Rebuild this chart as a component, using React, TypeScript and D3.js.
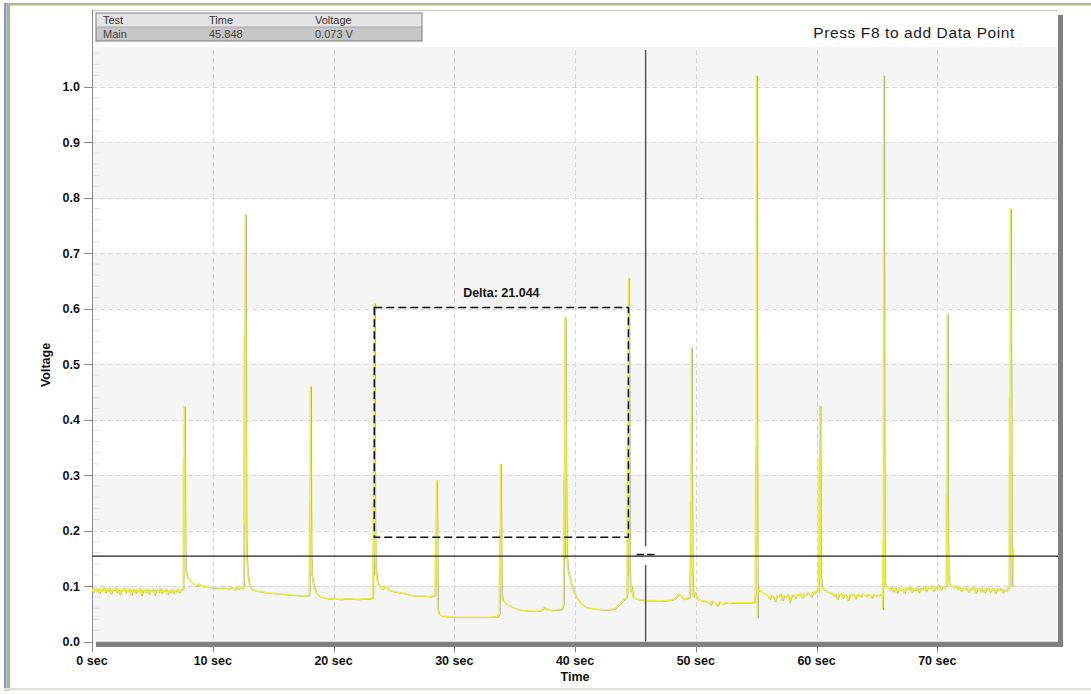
import React from "react";
import * as d3 from "d3";

// ---------------- DATA ----------------
const xTicks = [0, 10, 20, 30, 40, 50, 60, 70];
const xTickLabels = ["0 sec", "10 sec", "20 sec", "30 sec", "40 sec", "50 sec", "60 sec", "70 sec"];
const yTicks = [0, 0.1, 0.2, 0.3, 0.4, 0.5, 0.6, 0.7, 0.8, 0.9, 1.0];
const yTickLabels = ["0.0", "0.1", "0.2", "0.3", "0.4", "0.5", "0.6", "0.7", "0.8", "0.9", "1.0"];

const tableHeader = ["Test", "Time", "Voltage"];
const tableRow = ["Main", "45.848", "0.073 V"];

const cursorTime = 45.848;
const thresholdVolt = 0.154;
const deltaStart = 23.38;
const deltaEnd = 44.424;
const deltaTop = 0.602;
const deltaBottom = 0.188;
const deltaLabel = "Delta: 21.044";

// noisy stretches: start time, sample step, sampled voltages
const noiseA = {
  start: 0, step: 0.12, values: [
    0.094, 0.089, 0.097, 0.091, 0.096, 0.087, 0.095, 0.092, 0.098, 0.088,
    0.096, 0.090, 0.097, 0.086, 0.094, 0.092, 0.098, 0.089, 0.095, 0.085,
    0.094, 0.091, 0.097, 0.088, 0.095, 0.090, 0.096, 0.084, 0.093, 0.095,
    0.087, 0.094, 0.090, 0.096, 0.083, 0.092, 0.094, 0.088, 0.095, 0.086,
    0.093, 0.091, 0.095, 0.084, 0.092, 0.094, 0.089, 0.096, 0.087, 0.093,
    0.090, 0.095, 0.085, 0.092, 0.089, 0.094, 0.087, 0.093, 0.090, 0.095,
    0.088, 0.092, 0.094,
  ],
};
const noiseB = {
  start: 55.35, step: 0.15, values: [
    0.092, 0.088, 0.086, 0.085, 0.083, 0.076, 0.084, 0.082, 0.072, 0.083,
    0.081, 0.086, 0.074, 0.083, 0.080, 0.085, 0.071, 0.082, 0.084, 0.078,
    0.085, 0.083, 0.087, 0.079, 0.086, 0.084, 0.088, 0.085, 0.080, 0.089,
    0.087, 0.092, 0.090,
  ],
};
const noiseC = {
  start: 60.65, step: 0.15, values: [
    0.094, 0.091, 0.089, 0.087, 0.088, 0.082, 0.086, 0.076, 0.085, 0.087,
    0.078, 0.086, 0.084, 0.074, 0.085, 0.083, 0.086, 0.077, 0.084, 0.085,
    0.080, 0.086, 0.084, 0.081, 0.085, 0.084, 0.079, 0.085, 0.082, 0.084,
    0.083, 0.085, 0.084,
  ],
};
const noiseD = {
  start: 65.75, step: 0.15, values: [
    0.100, 0.097, 0.093, 0.099, 0.090, 0.097, 0.088, 0.098, 0.092, 0.096,
    0.087, 0.097, 0.094, 0.100, 0.089, 0.096, 0.092, 0.098, 0.088, 0.096,
    0.094, 0.100, 0.090, 0.097, 0.095, 0.101, 0.091, 0.097, 0.096, 0.102,
    0.093, 0.098, 0.096, 0.100,
  ],
};
const noiseE = {
  start: 71.05, step: 0.15, values: [
    0.103, 0.100, 0.097, 0.101, 0.094, 0.099, 0.091, 0.098, 0.095, 0.097,
    0.089, 0.096, 0.094, 0.098, 0.087, 0.095, 0.097, 0.090, 0.096, 0.088,
    0.095, 0.097, 0.089, 0.094, 0.096, 0.087, 0.095, 0.092, 0.096, 0.088,
    0.094, 0.091, 0.095,
  ],
};

// spikes with the following recovery, [time, voltage]
const seg1: [number, number][] = [
  [7.54, 0.095], [7.57, 0.33], [7.6, 0.2], [7.64, 0.424], [7.67, 0.3], [7.7, 0.18], [7.74, 0.13],
  [7.85, 0.118], [8.0, 0.112], [8.2, 0.108], [8.4, 0.104], [8.6, 0.1], [8.9, 0.104],
  [9.1, 0.099], [9.4, 0.1], [9.8, 0.097], [10.2, 0.097], [10.6, 0.096], [11.0, 0.097],
  [11.3, 0.095], [11.6, 0.098], [11.8, 0.093], [11.95, 0.099], [12.1, 0.094],
  [12.25, 0.1], [12.4, 0.095], [12.52, 0.098],
];
const seg2: [number, number][] = [
  [12.56, 0.11], [12.6, 0.55], [12.63, 0.21], [12.66, 0.565], [12.69, 0.77], [12.72, 0.55],
  [12.75, 0.21], [12.8, 0.15],
  [12.9, 0.12], [13.0, 0.105], [13.2, 0.094], [13.6, 0.091], [14.0, 0.09], [14.5, 0.088],
  [15.0, 0.087], [15.5, 0.086], [16.0, 0.085], [16.5, 0.084], [17.0, 0.083], [17.5, 0.082],
  [17.95, 0.083],
];
const seg3: [number, number][] = [
  [17.98, 0.085], [18.02, 0.25], [18.05, 0.12], [18.08, 0.46], [18.11, 0.24], [18.15, 0.15],
  [18.2, 0.12], [18.3, 0.105], [18.5, 0.09], [18.8, 0.082], [19.2, 0.079], [19.6, 0.077],
  [20.0, 0.078], [20.5, 0.076], [21.0, 0.077], [21.5, 0.077], [22.0, 0.076], [22.5, 0.077],
  [23.0, 0.077], [23.25, 0.079],
];
const seg4: [number, number][] = [
  [23.29, 0.25], [23.32, 0.12], [23.35, 0.4], [23.38, 0.61], [23.41, 0.245], [23.45, 0.16],
  [23.5, 0.13], [23.6, 0.11], [23.8, 0.1], [24.0, 0.094], [24.3, 0.1], [24.6, 0.092],
  [25.0, 0.09], [25.5, 0.088], [26.0, 0.086], [26.5, 0.083], [27.0, 0.082], [27.5, 0.082],
  [28.0, 0.081], [28.4, 0.083],
];
const seg5: [number, number][] = [
  [28.44, 0.2], [28.47, 0.1], [28.5, 0.22], [28.54, 0.29], [28.57, 0.2], [28.62, 0.06],
  [28.7, 0.05], [29.0, 0.046], [29.5, 0.045], [30.0, 0.044], [31.0, 0.044], [32.0, 0.044],
  [33.0, 0.044], [33.6, 0.045], [33.72, 0.05],
];
const seg6: [number, number][] = [
  [33.76, 0.2], [33.79, 0.1], [33.83, 0.32], [33.86, 0.23], [33.9, 0.09], [34.0, 0.075],
  [34.3, 0.068], [34.8, 0.062], [35.3, 0.058], [35.8, 0.056], [36.3, 0.055], [36.8, 0.055],
  [37.2, 0.056], [37.5, 0.062], [37.6, 0.057], [37.8, 0.059], [38.0, 0.056], [38.4, 0.057],
  [38.9, 0.058], [39.04, 0.07],
];
const seg7: [number, number][] = [
  [39.07, 0.3], [39.1, 0.15], [39.13, 0.45], [39.16, 0.585], [39.19, 0.567], [39.22, 0.45],
  [39.25, 0.27], [39.28, 0.16], [39.4, 0.13], [39.6, 0.11], [39.8, 0.095], [40.1, 0.08],
  [40.5, 0.068], [40.9, 0.062], [41.5, 0.059], [42.0, 0.058], [42.5, 0.057], [43.0, 0.058],
  [43.3, 0.06], [43.6, 0.065], [43.9, 0.073], [44.2, 0.078], [44.3, 0.085],
];
const seg8: [number, number][] = [
  [44.34, 0.35], [44.37, 0.12], [44.41, 0.62], [44.44, 0.655], [44.47, 0.5], [44.51, 0.15],
  [44.57, 0.09], [44.65, 0.1], [44.8, 0.08], [45.0, 0.077], [45.5, 0.075], [46.0, 0.074],
  [46.5, 0.074], [47.0, 0.073], [47.5, 0.074], [48.0, 0.075], [48.3, 0.078], [48.6, 0.086],
  [48.8, 0.082], [49.0, 0.076], [49.3, 0.078], [49.5, 0.08],
];
const seg9: [number, number][] = [
  [49.56, 0.25], [49.59, 0.12], [49.63, 0.53], [49.66, 0.3], [49.7, 0.13], [49.78, 0.08],
  [49.9, 0.09], [50.1, 0.077], [50.4, 0.074], [50.7, 0.073], [51.0, 0.071], [51.2, 0.066],
  [51.35, 0.073], [51.6, 0.07], [51.8, 0.064], [51.95, 0.072], [52.2, 0.068], [52.5, 0.07],
  [52.8, 0.069], [53.2, 0.07], [53.6, 0.07], [54.0, 0.07], [54.5, 0.07], [54.85, 0.071],
];
const seg10: [number, number][] = [
  [54.92, 0.09], [54.96, 0.35], [55.0, 0.15], [55.03, 1.02], [55.06, 0.37], [55.09, 0.043],
  [55.12, 0.1], [55.18, 0.09], [55.27, 0.093],
];
const seg11: [number, number][] = [
  [60.18, 0.09], [60.21, 0.33], [60.24, 0.14], [60.28, 0.425], [60.31, 0.21], [60.35, 0.12],
  [60.42, 0.1], [60.5, 0.096], [60.58, 0.093],
];
const seg12: [number, number][] = [
  [65.47, 0.058], [65.5, 0.18], [65.53, 0.1], [65.56, 1.02], [65.59, 0.375], [65.62, 0.12],
  [65.68, 0.1],
];
const seg13: [number, number][] = [
  [70.73, 0.1], [70.76, 0.265], [70.79, 0.12], [70.82, 0.59], [70.85, 0.26], [70.9, 0.12],
  [70.98, 0.105],
];
const seg14: [number, number][] = [
  [75.95, 0.1], [75.98, 0.44], [76.01, 0.15], [76.05, 0.78], [76.08, 0.57], [76.11, 0.44],
  [76.14, 0.16], [76.17, 0.1], [76.2, 0.17],
];

// ---------------- CHART ----------------
const W = 1091;
const H = 694;
const FONT = "'Liberation Sans', Arial, Helvetica, sans-serif";

function expand(n: { start: number; step: number; values: number[] }): [number, number][] {
  return n.values.map((v, i) => [n.start + i * n.step, v] as [number, number]);
}

export default function App() {
  const x = d3.scaleLinear().domain([0, 80]).range([92, 1058]);
  const y = d3.scaleLinear().domain([0, 1]).range([641.5, 86.5]);
  const plotTop = 47;
  const left = x(0);
  const right = x(80);
  const bottom = y(0);

  const trace: [number, number][] = [
    ...expand(noiseA), ...seg1, ...seg2, ...seg3, ...seg4, ...seg5, ...seg6, ...seg7,
    ...seg8, ...seg9, ...seg10, ...expand(noiseB), ...seg11, ...expand(noiseC), ...seg12,
    ...expand(noiseD), ...seg13, ...expand(noiseE), ...seg14,
  ];
  const line = d3.line<[number, number]>().x((d) => x(d[0])).y((d) => y(d[1]));
  const path = line(trace) || "";

  const bands = d3.range(0, 11).filter((i) => i % 2 === 0);
  const minor = d3.range(1, 55).map((i) => i * 0.02).filter((v) => Math.abs(v * 10 - Math.round(v * 10)) > 1e-6);

  const cx = x(cursorTime);
  const cy = y(thresholdVolt);

  return (
    <svg width={W} height={H} style={{ position: "absolute", left: 0, top: 0, background: "#fff" }} fontFamily={FONT}>
      <defs>
        <clipPath id="plotClip">
          <rect x={left} y={plotTop - 40} width={right - left} height={bottom - plotTop + 40} />
        </clipPath>
      </defs>
      {/* window frame */}
      <rect x={0} y={0} width={W} height={H} fill="#ffffff" />
      <rect x={4} y={3} width={W - 4} height={2.5} fill="#b4b78f" />
      <rect x={4} y={3} width={2.5} height={688} fill="#7f9fd2" />
      <rect x={6.5} y={5} width={3.5} height={686} fill="#b2b48f" />
      <rect x={4} y={688} width={W - 4} height={2.5} fill="#dfe6d3" />

      {/* plot shadow */}
      <rect x={right} y={15} width={5} height={bottom - 15 + 5.5} fill="#808080" />
      <rect x={left + 4} y={bottom} width={right - left + 1} height={5.5} fill="#808080" />

      {/* bands */}
      {bands.map((i) => {
        const y0 = Math.max(y(i * 0.1 + 0.1), plotTop);
        const y1 = y(i * 0.1);
        return <rect key={"b" + i} x={left} y={y0} width={right - left} height={y1 - y0} fill="#f5f5f5" />;
      })}
      {/* top border of plot */}
      <line x1={left} x2={right} y1={10.5} y2={10.5} stroke="#c8c8c8" />

      {/* minor ticks */}
      {minor.map((v, i) => (
        <line key={"m" + i} x1={left} x2={left + 8} y1={y(v)} y2={y(v)} stroke="#e2e2e2" />
      ))}

      {/* gridlines */}
      {yTicks.filter((v) => v > 0).map((v) => (
        <line key={"gy" + v} x1={left} x2={right} y1={Math.round(y(v)) + 0.5} y2={Math.round(y(v)) + 0.5}
          stroke="#d6d6d6" strokeDasharray="5,3" />
      ))}
      {xTicks.filter((v) => v > 0).map((v) => (
        <line key={"gx" + v} x1={Math.round(x(v)) + 0.5} x2={Math.round(x(v)) + 0.5} y1={plotTop + 3} y2={bottom}
          stroke="#d6d6d6" strokeDasharray="5,3" />
      ))}

      {/* axes */}
      <line x1={left + 0.5} x2={left + 0.5} y1={10} y2={bottom + 8} stroke="#8a8a8a" />
      {yTicks.map((v, i) => (
        <g key={"yt" + v}>
          <line x1={left - 8} x2={left} y1={Math.round(y(v)) + 0.5} y2={Math.round(y(v)) + 0.5} stroke="#8a8a8a" />
          <text x={left - 12} y={y(v) + 4.5} textAnchor="end" fontSize={12.5} fontWeight="bold" fill="#111">
            {yTickLabels[i]}
          </text>
        </g>
      ))}
      {xTicks.map((v, i) => (
        <g key={"xt" + v}>
          <line x1={Math.round(x(v)) + 0.5} x2={Math.round(x(v)) + 0.5} y1={bottom + 5} y2={bottom + 11} stroke="#8a8a8a" />
          <text x={x(v)} y={bottom + 23} textAnchor="middle" fontSize={12.5} fontWeight="bold" fill="#111">
            {xTickLabels[i]}
          </text>
        </g>
      ))}
      <text x={575} y={681} textAnchor="middle" fontSize={12.5} fontWeight="bold" fill="#111">Time</text>
      <text transform={`translate(50,365) rotate(-90)`} textAnchor="middle" fontSize={12.5} fontWeight="bold" fill="#111">
        Voltage
      </text>

      {/* trace */}
      <g clipPath="url(#plotClip)">
        <path d={path} fill="none" stroke="#9c9c8c" strokeWidth={1} strokeOpacity={0.7} transform="translate(1,0.6)" />
        <path d={path} fill="none" stroke="#ecec3c" strokeWidth={1.4} strokeLinejoin="round" />
      </g>

      {/* threshold line */}
      <line x1={left} x2={right} y1={cy} y2={cy} stroke="#222" strokeWidth={1.3} />

      {/* delta box */}
      <rect x={x(deltaStart)} y={y(deltaTop)} width={x(deltaEnd) - x(deltaStart)} height={y(deltaBottom) - y(deltaTop)}
        fill="none" stroke="#111" strokeWidth={1.5} strokeDasharray="8,4" />
      <text x={(x(deltaStart) + x(deltaEnd)) / 2} y={y(deltaTop) - 10} textAnchor="middle" fontSize={12.5}
        fontWeight="bold" fill="#111">
        {deltaLabel}
      </text>

      {/* vertical cursor */}
      <line x1={cx} x2={cx} y1={50} y2={cy - 10} stroke="#555" strokeWidth={1.5} />
      <line x1={cx} x2={cx} y1={cy + 9} y2={bottom} stroke="#555" strokeWidth={1.5} />
      <line x1={cx - 9} x2={cx - 1.5} y1={cy - 1.5} y2={cy - 1.5} stroke="#111" strokeWidth={1.5} />
      <line x1={cx + 1.5} x2={cx + 9} y1={cy - 1.5} y2={cy - 1.5} stroke="#111" strokeWidth={1.5} />

      {/* info table */}
      <rect x={96} y={13} width={326} height={14} fill="#e4e4e4" />
      <rect x={96} y={27} width={326} height={14} fill="#c6c6c6" />
      <rect x={96} y={13} width={326} height={28} fill="none" stroke="#7a7a7a" />
      <line x1={96} x2={422} y1={27} y2={27} stroke="#a8a8a8" />
      {[103, 209, 315].map((tx, i) => (
        <g key={"tb" + i}>
          <text x={tx} y={24} fontSize={11} fill="#333">{tableHeader[i]}</text>
          <text x={tx} y={38} fontSize={11} fill="#444">{tableRow[i]}</text>
        </g>
      ))}

      <text x={1015} y={38} textAnchor="end" fontSize={15.5} letterSpacing={0.6} fill="#1a1a1a">Press F8 to add Data Point</text>
    </svg>
  );
}
